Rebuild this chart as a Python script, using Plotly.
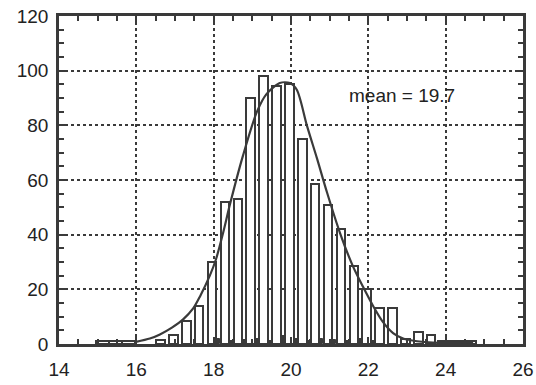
import plotly.graph_objects as go

# Main histogram bars (bin centres and counts)
bin_centers = [15.125, 15.458, 15.792,
               16.625, 16.958, 17.292, 17.625, 17.958, 18.292, 18.625, 18.958,
               19.292, 19.625, 19.958, 20.292, 20.625, 20.958, 21.292, 21.625,
               21.958, 22.292, 22.625, 22.958, 23.292, 23.625, 23.958, 24.292, 24.625]
counts = [1, 1, 1,
          1.5, 3.3, 8.4, 14, 30, 52, 53, 90,
          98, 94.5, 95, 75, 58.5, 51, 42, 28.5,
          20.3, 13, 13, 2, 4.3, 3.4, 1, 1, 1]
bar_widths = [0.333, 0.333, 0.333] + [0.22] * 22 + [0.333, 0.333, 0.333]

# Small in-between bins
gap_centers = [18.125, 18.458, 18.792, 19.125, 19.458, 19.792, 20.125, 20.458,
               20.792, 21.125, 21.458, 21.792, 22.125]
gap_counts = [2, 1, 1.5, 2, 1, 3, 2, 1, 2, 1.5, 1, 2, 1]

# Fitted curve
curve_x = [15.99, 16.35, 16.61, 16.92, 17.21, 17.47, 17.65, 17.90, 18.06, 18.25,
           18.42, 18.76, 19.12, 19.37, 19.71, 19.97, 20.15, 20.41, 20.67, 20.93,
           21.27, 21.60, 21.86, 22.12, 22.38, 22.64, 22.90, 23.26, 23.67, 24.71]
curve_y = [0.8, 2, 3.5, 6, 9, 13, 17.5, 25, 31, 41,
           51, 69, 85, 91.5, 95.5, 95.5, 93, 80, 68, 55.5,
           40.5, 28.5, 21, 14, 8, 4, 2, 1, 0.5, 0.5]

x_ticks = [14, 16, 18, 20, 22, 24, 26]
y_ticks = [0, 20, 40, 60, 80, 100, 120]
annotation_text = "mean = 19.7"

ink = "#3a3a3a"
font_family = "Liberation Sans, Arial, Helvetica, sans-serif"

fig = go.Figure()
fig.add_trace(go.Bar(x=bin_centers, y=counts, width=bar_widths,
                     marker=dict(color="white", line=dict(color=ink, width=2)),
                     showlegend=False))
fig.add_trace(go.Bar(x=gap_centers, y=gap_counts, width=0.09,
                     marker=dict(color=ink, line=dict(color=ink, width=1)),
                     showlegend=False))
fig.add_trace(go.Scatter(x=curve_x, y=curve_y, mode="lines",
                         line=dict(color=ink, width=2.2, shape="spline", smoothing=0.8),
                         showlegend=False))

fig.add_annotation(x=21.45, y=91, text=annotation_text, showarrow=False,
                   xanchor="left", yanchor="middle",
                   font=dict(family=font_family, size=19, color="#222"))

axis_common = dict(showline=True, linecolor=ink, linewidth=2.5, mirror="allticks",
                   ticks="inside", ticklen=7, tickwidth=1.5, tickcolor=ink,
                   showgrid=True, gridcolor=ink, gridwidth=1.5, griddash="dot",
                   zeroline=False, automargin=False,
                   tickfont=dict(family=font_family, size=19, color="#222"))

fig.update_xaxes(range=[14, 26], tickvals=x_ticks, ticktext=[str(v) for v in x_ticks],
                 ticklabelstandoff=6,
                 minor=dict(dtick=0.5, ticks="inside", ticklen=5, tickwidth=1.5,
                            tickcolor=ink, showgrid=False),
                 **axis_common)
fig.update_yaxes(range=[0, 120], tickvals=y_ticks, ticktext=[str(v) for v in y_ticks],
                 ticklabelstandoff=4,
                 minor=dict(dtick=5, ticks="inside", ticklen=5, tickwidth=1.5,
                            tickcolor=ink, showgrid=False),
                 **axis_common)

fig.update_layout(width=536, height=385, margin=dict(l=59, r=13, t=16, b=41),
                  plot_bgcolor="white", paper_bgcolor="white",
                  barmode="overlay", bargap=0)

fig.write_html("out.html")
